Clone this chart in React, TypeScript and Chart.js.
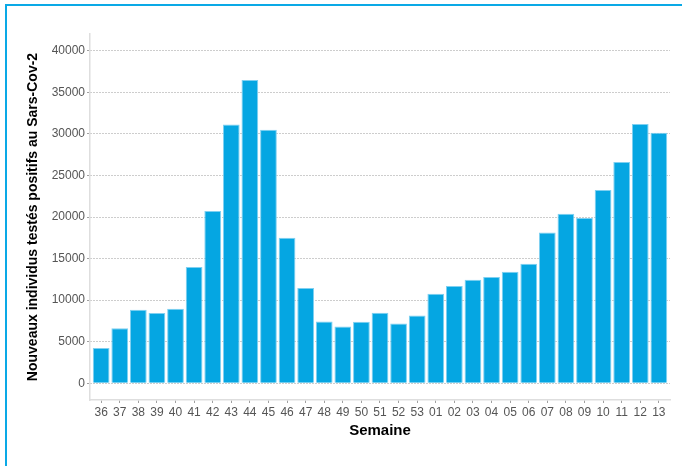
import React, { useEffect, useRef } from "react";
import { Chart, registerables } from "chart.js";

Chart.register(...registerables);

const weeks = [
  "36", "37", "38", "39", "40", "41", "42", "43", "44", "45", "46", "47", "48", "49", "50", "51", "52", "53",
  "01", "02", "03", "04", "05", "06", "07", "08", "09", "10", "11", "12", "13",
];

const positives = [
  4250, 6640, 8840, 8450, 8960, 13980, 20720, 31130, 36480, 30500, 17500, 11450, 7440, 6830, 7400, 8480, 7190, 8160,
  10770, 11690, 12450, 12780, 13410, 14380, 18140, 20390, 19870, 23240, 26610, 31180, 30140,
];

const yTicks = [0, 5000, 10000, 15000, 20000, 25000, 30000, 35000, 40000];

const yTitle = "Nouveaux individus testés positifs au Sars-Cov-2";
const xTitle = "Semaine";

const FONT = "'Liberation Sans', Arial, sans-serif";

export default function App() {
  const ref = useRef<HTMLCanvasElement | null>(null);

  useEffect(() => {
    if (!ref.current) return;
    const chart = new Chart(ref.current, {
      type: "bar",
      data: {
        datasets: [
          {
            data: positives.map((v, i) => ({ x: i, y: v })),
            backgroundColor: "#05a6e2",
            borderColor: "#7fd0f1",
            borderWidth: 1,
            categoryPercentage: 1,
            barPercentage: 0.9,
          },
        ],
      },
      options: {
        responsive: false,
        animation: false,
        devicePixelRatio: 1,
        layout: { padding: { top: 34, right: 12, left: 0, bottom: 0 } },
        plugins: { legend: { display: false }, tooltip: { enabled: false } },
        scales: {
          x: {
            type: "linear",
            min: -0.6,
            max: weeks.length - 1 + 0.6,
            offset: false,
            afterBuildTicks: (axis: any) => {
              axis.ticks = weeks.map((_, i) => ({ value: i }));
            },
            afterFit: (scale: any) => {
              scale.height = 66;
            },
            ticks: {
              autoSkip: false,
              maxRotation: 0,
              minRotation: 0,
              padding: 2,
              color: "#555555",
              font: { family: FONT, size: 12 },
              callback: (value: any) => weeks[Math.round(Number(value))] ?? "",
            },
            grid: {
              offset: false,
              drawOnChartArea: false,
              drawTicks: true,
              tickLength: 3,
              tickColor: "#a0a0a0",
              tickWidth: 1,
            },
            border: { display: true, color: "#dedede", width: 1.5 },
            title: {
              display: true,
              text: xTitle,
              color: "#000000",
              font: { family: FONT, size: 15, weight: "bold" },
              padding: { top: 0, bottom: 26 },
            },
          },
          y: {
            type: "linear",
            min: -2000,
            max: 42000,
            afterBuildTicks: (axis: any) => {
              axis.ticks = yTicks.map((v) => ({ value: v }));
            },
            afterFit: (scale: any) => {
              scale.width = 90;
            },
            ticks: {
              padding: 2,
              color: "#555555",
              font: { family: FONT, size: 12 },
              callback: (value: any) => String(value),
            },
            grid: {
              drawOnChartArea: true,
              drawTicks: true,
              tickLength: 3,
              color: "#9a9a9a",
              lineWidth: 1,
              borderDash: [1, 2],
              tickColor: "#a0a0a0",
              tickBorderDash: [],
            } as any,
            border: { display: true, color: "#dedede", width: 1.5, dash: [1, 2] },
            title: {
              display: true,
              text: yTitle,
              color: "#000000",
              font: { family: FONT, size: 14, weight: "bold" },
              padding: { top: 24.6, bottom: 0 },
            },
          },
        },
      },
    });
    return () => chart.destroy();
  }, []);

  return (
    <div style={{ position: "fixed", left: 0, top: 0, width: 682, height: 466, background: "#ffffff", overflow: "hidden" }}>
      <canvas ref={ref} width={682} height={466} style={{ position: "absolute", left: 0, top: 0, width: 682, height: 466 }} />
      <div
        style={{
          position: "absolute",
          left: 5,
          top: 4,
          right: 0,
          bottom: 0,
          borderTop: "2px solid #0aa9e6",
          borderLeft: "2px solid #0aa9e6",
          pointerEvents: "none",
        }}
      />
    </div>
  );
}
